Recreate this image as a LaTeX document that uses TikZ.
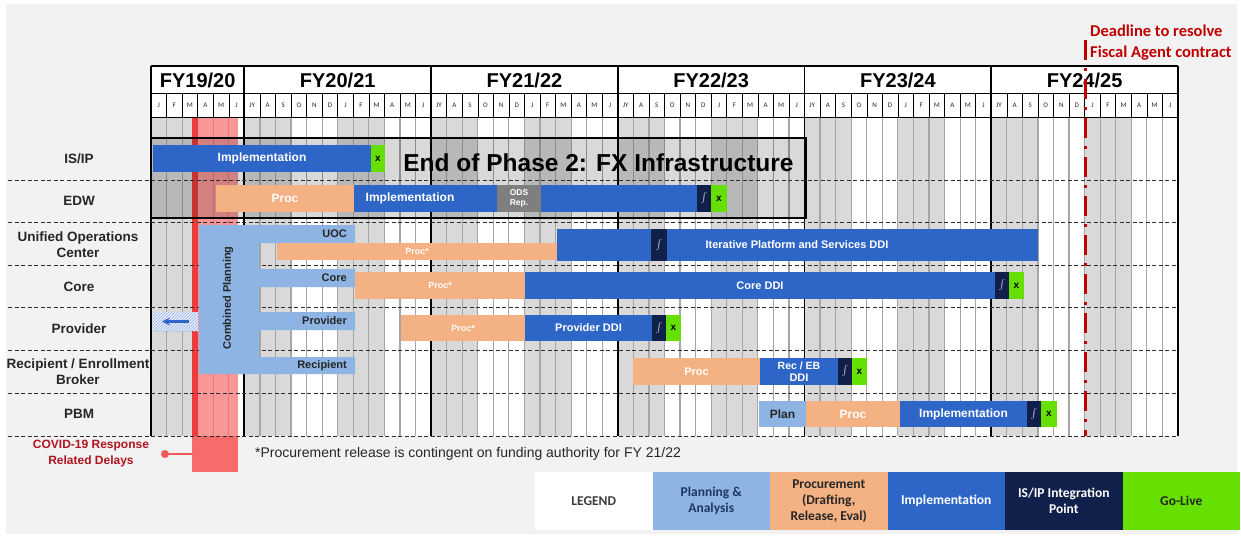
\documentclass[tikz,border=0pt]{standalone}
\usepackage{fontspec}
\setmainfont{Liberation Sans}
\newfontfamily\calibri{Carlito}
\usetikzlibrary{positioning, arrows, patterns}

% --- CORES ---
\definecolor{fundo}{HTML}{F2F2F2}
\definecolor{listra}{HTML}{D9D9D9}
\definecolor{grade}{HTML}{A6A6A6}
\definecolor{planej}{HTML}{8DB4E2}
\definecolor{aquis}{HTML}{F4B183}
\definecolor{implem}{HTML}{2E66C8}
\definecolor{integ}{HTML}{10204A}
\definecolor{golive}{HTML}{66E000}
\definecolor{ods}{HTML}{7F7F7F}
\definecolor{prazo}{HTML}{C00000}
\definecolor{covid}{HTML}{F76B6B}
\definecolor{covidforte}{HTML}{EE3B3B}
\definecolor{covidtxt}{HTML}{B0141E}
\definecolor{rotulo}{HTML}{262626}
\definecolor{azulesc}{HTML}{1F3864}

\newcommand{\fs}[2]{\fontsize{#1}{#2}\selectfont}
\newcommand{\mx}[1]{151+15.56*(#1)} % x do inicio de um mes
% barra do cronograma: estilo, nome, x1, x2, y1, y2, texto
\newcommand{\tarefa}[7]{%
  \node[#1, minimum width={(#4-#3)*1pt}, minimum height={(#6-#5)*1pt}, anchor=north west] (#2) at (#3,#5) {#7};}

\begin{document}
\begin{tikzpicture}[
    x=1pt, y=-1pt,       % 1 unidade = 1 pixel, y para baixo
    >=stealth,           % Estilo da seta
    barra/.style={rectangle, inner sep=0pt, outer sep=0pt, align=center, text=white, font=\bfseries\fs{11}{12}},
    procbar/.style={barra, fill=aquis},
    implbar/.style={barra, fill=implem},
    planbar/.style={barra, fill=planej, text=rotulo, font=\bfseries\fs{12}{13}},
    intbar/.style={barra, fill=integ, text=white!70!gray, font=\fs{9}{10}},
    gobar/.style={barra, fill=golive, text=black, font=\bfseries\fs{10}{11}},
    odsbar/.style={barra, fill=ods, font=\bfseries\fs{8.5}{10.5}},
    linhalabel/.style={font=\bfseries\fs{13.5}{16}, text=rotulo, align=center},
    tablabel/.style={font=\bfseries\fs{11}{12}, text=rotulo, inner sep=0pt},
    mesrot/.style={font=\calibri\fs{7}{8}, text=rotulo, inner sep=0pt},
    fyrot/.style={font=\bfseries\fs{20}{22}, inner sep=0pt},
    tracejado/.style={gray!35!black, line width=1pt, dash pattern=on 4pt off 2.5pt},
    legbox/.style={rectangle, minimum width=117.5pt, minimum height=58pt, inner sep=0pt, outer sep=0pt, align=center, font=\calibri\bfseries\fs{13.5}{16}}
  ]
  \useasboundingbox (0,0) rectangle (1241,538);

  % --- FUNDO ---
  \fill[white] (0,0) rectangle (1241,538);
  \fill[fundo] (6,4) rectangle (1237,534);
  \fill[white] (151,66) rectangle (1178,436);

  % --- LISTRAS DOS TRIMESTRES ---
  \foreach \q in {0,2,...,20}
    \fill[listra] ({\mx{3*\q}},117) rectangle ({\mx{3*\q+3}},436);
  \foreach \i in {1,...,65}
    \draw[grade, line width=1.2pt] ({\mx{\i}},117) -- ({\mx{\i}},436);

  % --- COVID ---
  \fill[covid, opacity=0.7] (192,117) rectangle (238,436);
  \fill[covidforte] (192,117) rectangle (198,436);
  \fill[covid] (192,436) rectangle (238,472);

  % --- CABECALHO ---
  \foreach \i in {1,...,65}
    \draw[line width=0.5pt] ({\mx{\i}},93) -- ({\mx{\i}},117);
  \draw[line width=1pt] (151,93) -- (1178,93);
  \draw[line width=1pt] (151,117) -- (1178,117);
  \draw[line width=1.8pt] (151,66) -- (1178,66);
  \foreach \i in {0,6,18,30,42,54,66}
    \draw[line width=1.8pt] ({\mx{\i}},66) -- ({\mx{\i}},436);

  \node[fyrot] (fy19) at ({\mx{3}},80) {FY19/20};
  \foreach \k in {0,...,4}{
    \pgfmathtruncatemacro{\anoA}{20+\k}
    \pgfmathtruncatemacro{\anoB}{21+\k}
    \node[fyrot] (fy\anoA) at ({\mx{12+12*\k}},80) {FY\anoA/\anoB};
  }
  \foreach \m [count=\j from 0] in {J,F,M,A,M,J}
    \node[mesrot] (mA\j) at ({\mx{\j+0.5}},105) {\m};
  \foreach \k in {0,...,4}
    \foreach \m [count=\j from 0] in {JY,A,S,O,N,D,J,F,M,A,M,J}
      \node[mesrot] (m\k-\j) at ({\mx{6+12*\k+\j+0.5}},105) {\m};

  % --- FASE 2 ---
  \fill[black, opacity=0.15] (151,138) rectangle (806,218);

  % --- LINHAS ---
  \foreach \y in {180,222,265,307,350,393,436}
    \draw[tracejado] (8,\y) -- (1178,\y);

  \node[linhalabel] (lIsip) at (79,159) {IS/IP};
  \node[linhalabel] (lEdw) at (79,201) {EDW};
  \node[linhalabel] (lUoc) at (78,244.5) {Unified Operations\\Center};
  \node[linhalabel] (lCore) at (79,287) {Core};
  \node[linhalabel] (lProv) at (79,329) {Provider};
  \node[linhalabel] (lRec) at (78,372) {Recipient / Enrollment\\Broker};
  \node[linhalabel] (lPbm) at (79,414) {PBM};

  % --- PLANEJAMENTO COMBINADO ---
  \fill[planej] (199,225) -- (355,225) -- (355,243) -- (259,243) -- (259,269) -- (355,269)
    -- (355,287) -- (259,287) -- (259,312) -- (355,312) -- (355,330) -- (259,330)
    -- (259,357) -- (355,357) -- (355,374) -- (199,374) -- cycle;
  \node[tablabel, rotate=90] (combPlan) at (228,298) {Combined Planning};
  \node[tablabel, anchor=east] (tabUoc) at (347,234) {UOC};
  \node[tablabel, anchor=east] (tabCore) at (347,278) {Core};
  \node[tablabel, anchor=east] (tabProv) at (347,321) {Provider};
  \node[tablabel, anchor=east] (tabRec) at (347,365.5) {Recipient};

  \fill[blue!8] (153,312) rectangle (198,331);
  \fill[pattern=north east lines, pattern color=planej] (153,312) rectangle (198,331);
  \coordinate (setaIni) at (189,321.5);
  \coordinate (setaFim) at (162,321.5);
  \draw[->, implem, line width=2.5pt] (setaIni) -- (setaFim);

  % --- BARRAS ---
  % IS/IP
  \tarefa{implbar}{isipImpl}{153}{371}{145}{172}{\fs{12}{13}Implementation}
  \tarefa{gobar}{isipGo}{371}{385}{145}{172}{x}
  % EDW
  \tarefa{procbar}{edwProc}{216}{354}{185}{212}{\fs{12}{13}Proc}
  \tarefa{implbar}{edwImpl}{354}{697}{185}{212}{}
  \node[barra, font=\bfseries\fs{12}{13}] (edwImplTxt) at (410,198.5) {Implementation};
  \tarefa{odsbar}{edwOds}{497}{541}{185}{212}{ODS\\Rep.}
  \tarefa{intbar}{edwInt}{697}{711}{185}{212}{$\int$}
  \tarefa{gobar}{edwGo}{711}{727}{185}{212}{x}
  % UOC
  \tarefa{procbar}{uocProc}{277}{557}{243}{260}{\fs{9}{10}Proc*}
  \tarefa{implbar}{uocImpl}{557}{1038}{229}{261}{}
  \node[barra, font=\bfseries\fs{11}{12}] (uocImplTxt) at (797,245) {Iterative Platform and Services DDI};
  \tarefa{intbar}{uocInt}{651}{667}{229}{261}{$\int$}
  % Core
  \tarefa{procbar}{coreProc}{355}{525}{272}{299}{\fs{9}{10}Proc*}
  \tarefa{implbar}{coreImpl}{525}{995}{272}{299}{Core DDI}
  \tarefa{intbar}{coreInt}{995}{1009}{272}{299}{$\int$}
  \tarefa{gobar}{coreGo}{1009}{1024}{272}{299}{x}
  % Provider
  \tarefa{procbar}{provProc}{401}{525}{315}{341}{\fs{9}{10}Proc*}
  \tarefa{implbar}{provImpl}{525}{652}{315}{341}{Provider DDI}
  \tarefa{intbar}{provInt}{652}{666}{315}{341}{$\int$}
  \tarefa{gobar}{provGo}{666}{681}{315}{341}{x}
  % Recipient
  \tarefa{procbar}{recProc}{633}{760}{358}{385}{Proc}
  \tarefa{implbar}{recImpl}{760}{838}{358}{385}{\fs{10.5}{13}Rec / EB\\DDI}
  \tarefa{intbar}{recInt}{838}{852}{358}{385}{$\int$}
  \tarefa{gobar}{recGo}{852}{867}{358}{385}{x}
  % PBM
  \tarefa{planbar}{pbmPlan}{759}{806}{401}{427}{Plan}
  \tarefa{procbar}{pbmProc}{806}{900}{401}{427}{\fs{12}{13}Proc}
  \tarefa{implbar}{pbmImpl}{900}{1027}{401}{427}{\fs{12}{13}Implementation}
  \tarefa{intbar}{pbmInt}{1027}{1041}{401}{427}{$\int$}
  \tarefa{gobar}{pbmGo}{1041}{1057}{401}{427}{x}

  % --- CAIXA DA FASE 2 ---
  \draw[line width=2.5pt] (151,138) rectangle (806,218);
  \node[font=\bfseries\fs{24.5}{26}, inner sep=0pt] (fase2) at (598.5,163) {End of Phase 2: FX Infrastructure};

  % --- PRAZO ---
  \coordinate (prazoTopo) at (1085,40);
  \coordinate (prazoBase) at (1085,436);
  \draw[prazo, line width=3pt, dash pattern=on 20pt off 8pt on 3pt off 8pt] (prazoTopo) -- (prazoBase);
  \node[font=\calibri\bfseries\fs{16.5}{21}, text=prazo, align=left, anchor=west, inner sep=0pt] (prazoTxt) at (1090,43) {Deadline to resolve\\Fiscal Agent contract};

  % --- NOTAS ---
  \node[font=\bfseries\fs{12}{16}, text=covidtxt, align=center] (covidTxt) at (91,453.5) {COVID-19 Response\\Related Delays};
  \node[circle, fill=covidforte!85!white, inner sep=0pt, minimum size=8pt] (covidPonto) at (165,454) {};
  \coordinate (covidFaixa) at (193,454);
  \draw[covidforte!85!white, line width=2pt] (covidPonto) -- (covidFaixa);
  \node[font=\fs{14}{16}, text=rotulo, anchor=west, inner sep=0pt] (nota) at (255,454) {*Procurement release is contingent on funding authority for FY 21/22};

  % --- LEGENDA ---
  \node[legbox, fill=white, text=rotulo!90!white, anchor=north west] (legTitulo) at (535,472) {LEGEND};
  \node[legbox, fill=planej, text=azulesc, right=0pt of legTitulo] (legPlan) {Planning \&\\Analysis};
  \node[legbox, fill=aquis, text=rotulo, right=0pt of legPlan] (legProc) {Procurement\\(Drafting,\\Release, Eval)};
  \node[legbox, fill=implem, text=white, right=0pt of legProc] (legImpl) {Implementation};
  \node[legbox, fill=integ, text=white, right=0pt of legImpl] (legInt) {IS/IP Integration\\Point};
  \node[legbox, fill=golive, text=rotulo, right=0pt of legInt] (legGo) {Go-Live};

\end{tikzpicture}
\end{document}
